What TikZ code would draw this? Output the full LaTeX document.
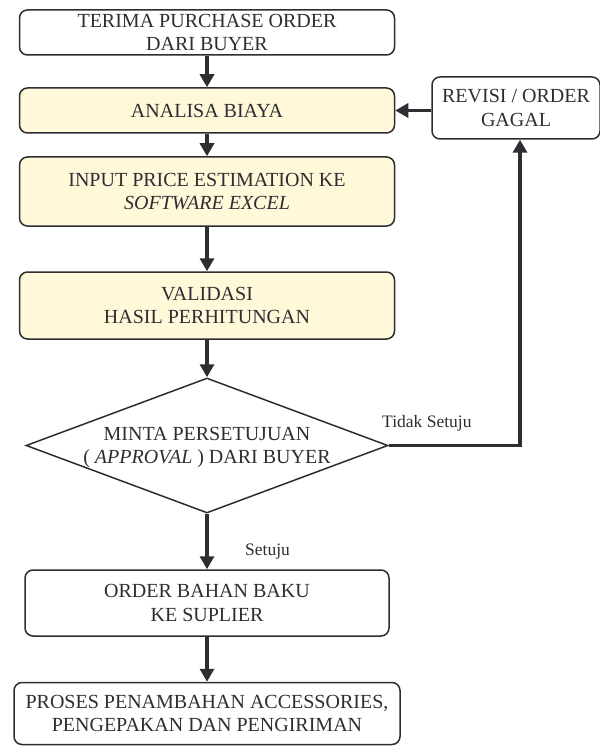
\documentclass[tikz,border=0pt]{standalone}
\usepackage{fontspec}
\setmainfont{Liberation Serif}
\usetikzlibrary{shapes.geometric,arrows.meta}
\definecolor{boxyellow}{RGB}{255,249,218}
\definecolor{inkgray}{RGB}{45,45,50}
\tikzset{
  box/.style = {draw=inkgray, line width=1.5pt, rounded corners=8pt, align=center,
    text=inkgray, font=\fontsize{20}{23.5}\selectfont, inner sep=0pt},
  yellow box/.style = {box, fill=boxyellow},
  decision/.style = {diamond, draw=inkgray, line width=1.5pt, inner sep=0pt},
  decision text/.style = {align=center, text=inkgray, font=\fontsize{20}{23.5}\selectfont},
  flow/.style = {-{Triangle[width=14pt,length=13pt]}, line width=3.4pt, draw=inkgray},
  answer/.style = {text=inkgray, font=\fontsize{17.5}{20}\selectfont, inner sep=0pt}
}

\begin{document}
\begin{tikzpicture}[x=1pt,y=-1pt]

  \useasboundingbox (0,0) rectangle (599,746);

  \node[box, minimum width=375pt, minimum height=45pt] (po) at (207,32.5) {TERIMA PURCHASE ORDER\\DARI BUYER};
  \node[yellow box, minimum width=375pt, minimum height=45pt] (biaya) at (207,110.5) {ANALISA BIAYA};
  \node[yellow box, minimum width=375pt, minimum height=69pt] (input) at (207,191.5) {INPUT PRICE ESTIMATION KE\\\textit{SOFTWARE EXCEL}};
  \node[yellow box, minimum width=375pt, minimum height=67pt] (valid) at (207,305.5) {VALIDASI\\HASIL PERHITUNGAN};

  \node[decision, minimum width=362pt, minimum height=135pt,
    label={[decision text, yshift=-2pt]center:MINTA PERSETUJUAN\\( \textit{APPROVAL} ) DARI BUYER}] (approval) at (207,445.5) {};

  \node[box, minimum width=168pt, minimum height=62pt] (revisi) at (516,108) {REVISI / ORDER\\GAGAL};

  \node[box, minimum width=364pt, minimum height=66pt] (supplier) at (207,603) {ORDER BAHAN BAKU\\KE SUPLIER};
  \node[box, minimum width=386pt, minimum height=62pt] (kirim) at (207,713.5) {PROSES PENAMBAHAN ACCESSORIES,\\PENGEPAKAN DAN PENGIRIMAN};

  \coordinate (turn) at (520,445.5);

  \draw[flow] (po) -- (biaya);
  \draw[flow] (biaya) -- (input);
  \draw[flow] (input) -- (valid);
  \draw[flow] (valid) -- (approval);
  \draw[flow] (approval) -- (supplier);
  \draw[flow] (supplier) -- (kirim);

  % tolak: kembali ke analisa biaya
  \draw[flow] (approval.east) -- (turn) -- (turn |- revisi.south);
  \draw[flow] (revisi.west |- biaya.east) -- (biaya.east);

  \node[answer, anchor=base west] (tidak) at (382,427) {Tidak Setuju};
  \node[answer, anchor=base west] (setuju) at (245,555) {Setuju};
\end{tikzpicture}
\end{document}
